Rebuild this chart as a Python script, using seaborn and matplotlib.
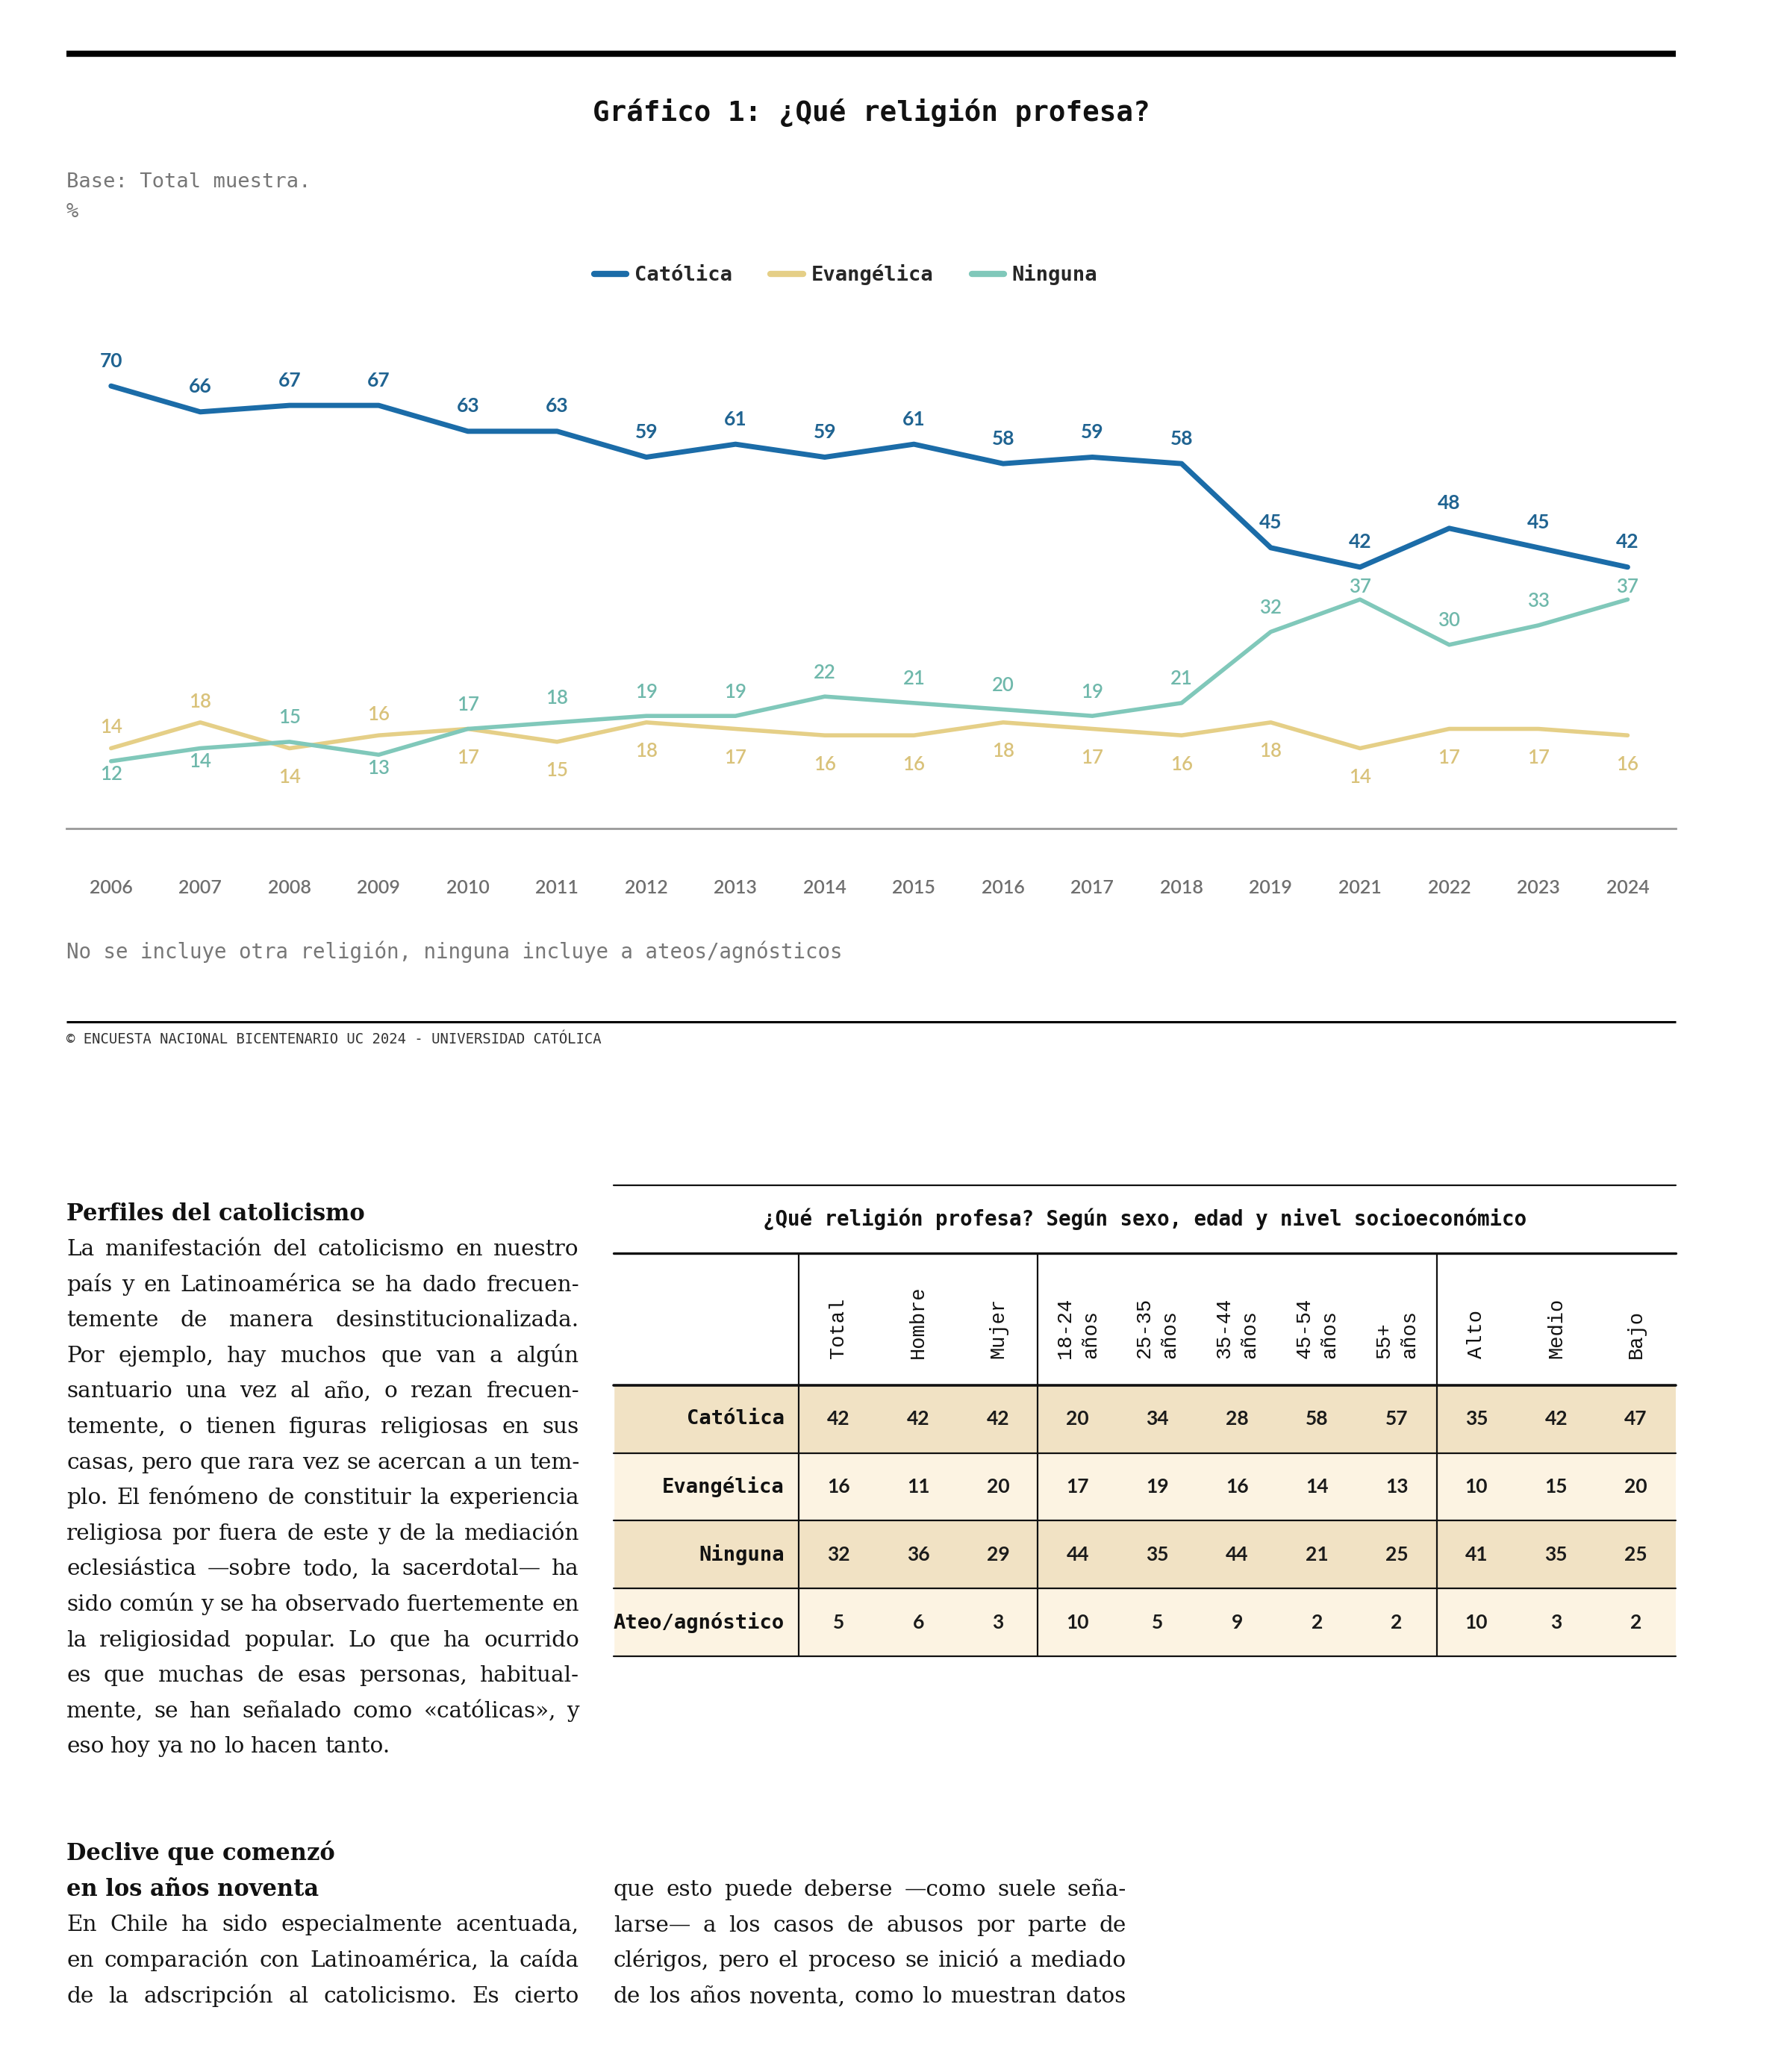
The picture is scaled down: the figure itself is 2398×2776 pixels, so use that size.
import numpy as np
import pandas as pd
import matplotlib
matplotlib.use('Agg')
import matplotlib.pyplot as plt
import seaborn as sns
from matplotlib.colors import ListedColormap
from matplotlib.lines import Line2D

# --- datos del grafico 1 ---
anios = ['2006', '2007', '2008', '2009', '2010', '2011', '2012', '2013', '2014',
         '2015', '2016', '2017', '2018', '2019', '2021', '2022', '2023', '2024']
catolica = [70, 66, 67, 67, 63, 63, 59, 61, 59, 61, 58, 59, 58, 45, 42, 48, 45, 42]
evangelica = [14, 18, 14, 16, 17, 15, 18, 17, 16, 16, 18, 17, 16, 18, 14, 17, 17, 16]
ninguna = [12, 14, 15, 13, 17, 18, 19, 19, 22, 21, 20, 19, 21, 32, 37, 30, 33, 37]

# --- datos de la tabla ---
filas = ['Católica', 'Evangélica', 'Ninguna', 'Ateo/agnóstico']
columnas = ['Total', 'Hombre', 'Mujer', '18-24\naños', '25-35\naños', '35-44\naños',
            '45-54\naños', '55+\naños', 'Alto', 'Medio', 'Bajo']
tab_catolica = [42, 42, 42, 20, 34, 28, 58, 57, 35, 42, 47]
tab_evangelica = [16, 11, 20, 17, 19, 16, 14, 13, 10, 15, 20]
tab_ninguna = [32, 36, 29, 44, 35, 44, 21, 25, 41, 35, 25]
tab_ateo = [5, 6, 3, 10, 5, 9, 2, 2, 10, 3, 2]

# --- textos ---
titulo = 'Gráfico 1: ¿Qué religión profesa?'
base_txt = 'Base: Total muestra.'
nota = 'No se incluye otra religión, ninguna incluye a ateos/agnósticos'
copy_txt = '© ENCUESTA NACIONAL BICENTENARIO UC 2024 - UNIVERSIDAD CATÓLICA'
titulo_tabla = '¿Qué religión profesa? Según sexo, edad y nivel socioeconómico'

texto1 = ['La manifestación del catolicismo en nuestro',
          'país y en Latinoamérica se ha dado frecuen-',
          'temente de manera desinstitucionalizada.',
          'Por ejemplo, hay muchos que van a algún',
          'santuario una vez al año, o rezan frecuen-',
          'temente, o tienen figuras religiosas en sus',
          'casas, pero que rara vez se acercan a un tem-',
          'plo. El fenómeno de constituir la experiencia',
          'religiosa por fuera de este y de la mediación',
          'eclesiástica —sobre todo, la sacerdotal— ha',
          'sido común y se ha observado fuertemente en',
          'la religiosidad popular. Lo que ha ocurrido',
          'es que muchas de esas personas, habitual-',
          'mente, se han señalado como «católicas», y',
          'eso hoy ya no lo hacen tanto.']
texto2 = ['En Chile ha sido especialmente acentuada,',
          'en comparación con Latinoamérica, la caída',
          'de la adscripción al catolicismo. Es cierto']
texto3 = ['que esto puede deberse —como suele seña-',
          'larse— a los casos de abusos por parte de',
          'clérigos, pero el proceso se inició a mediado',
          'de los años noventa, como lo muestran datos']

C_CAT = '#1b6ca8'
C_EVA = '#e5cf87'
C_NIN = '#80c8ba'
L_CAT = '#1f6391'
L_EVA = '#d9c27a'
L_NIN = '#6fb8ab'
BAND_D = '#f1e2c4'
BAND_L = '#fcf3e2'

MONO = 'DejaVu Sans Mono'
MONO2 = 'Liberation Mono'
SERIF = 'DejaVu Serif'
NUM = 'Lato'

W, H, DPI = 2398, 2776, 100
sns.set_theme(style='white')
plt.rcParams['font.family'] = ['DejaVu Sans']

fig = plt.figure(figsize=(W / DPI, H / DPI), dpi=DPI)
fig.patch.set_facecolor('white')


def fx(px):
    return px / W


def fy(py):
    return 1 - py / H


def add_ax(x0, y0, x1, y1):
    return fig.add_axes([fx(x0), fy(y1), fx(x1 - x0), (y1 - y0) / H])


def hline(y, x0, x1, lw, color='black'):
    fig.add_artist(Line2D([fx(x0), fx(x1)], [fy(y), fy(y)], transform=fig.transFigure,
                          color=color, lw=lw, solid_capstyle='butt'))


# cabecera
hline(72, 89, 2245, 6)
fig.text(fx(1167), fy(151), titulo, ha='center', va='center', family=MONO,
         weight='bold', fontsize=27, color='#111')
fig.text(fx(89), fy(244), base_txt, ha='left', va='center', family=MONO,
         fontsize=19.5, color='#777')
fig.text(fx(89), fy(284), '%', ha='left', va='center', family=MONO,
         fontsize=19.5, color='#777')

# grafico de lineas
ax = add_ax(89, 440, 2245, 1110)
n = len(anios)
df = pd.DataFrame({
    'pos': list(range(n)) * 3,
    'valor': catolica + evangelica + ninguna,
    'serie': ['Católica'] * n + ['Evangélica'] * n + ['Ninguna'] * n,
})
estilos = {'Católica': (C_CAT, 5.0), 'Evangélica': (C_EVA, 4.0), 'Ninguna': (C_NIN, 4.0)}
for serie, (col, lw) in estilos.items():
    sns.lineplot(data=df[df.serie == serie], x='pos', y='valor', color=col, lw=lw,
                 ax=ax, legend=False)

ax.set_xlim(-0.5, 17.54)
ax.set_ylim(1.6, 78.9)
ax.set_xlabel('')
ax.set_ylabel('')
ax.set_yticks([])
ax.set_xticks(range(n))
ax.set_xticklabels(anios, family=NUM, fontsize=18, color='#6f6f6f', weight='semibold')
ax.tick_params(axis='x', length=0, pad=49)
for s in ['top', 'left', 'right']:
    ax.spines[s].set_visible(False)
ax.spines['bottom'].set_color('#999999')
ax.spines['bottom'].set_linewidth(2)
ax.set_facecolor('none')

for i in range(n):
    c, e, m = catolica[i], evangelica[i], ninguna[i]
    ax.annotate(str(c), (i, c), xytext=(0, 24), textcoords='offset points', ha='center',
                va='center', family=NUM, fontsize=19, weight='bold', color=L_CAT)
    if e > m:
        off_e, off_m = 20, -13
    else:
        off_e = -28
        off_m = 12 if c - m < 8 else 23
    ax.annotate(str(e), (i, e), xytext=(0, off_e), textcoords='offset points', ha='center',
                va='center', family=NUM, fontsize=18.5, weight='semibold', color=L_EVA)
    ax.annotate(str(m), (i, m), xytext=(0, off_m), textcoords='offset points', ha='center',
                va='center', family=NUM, fontsize=18.5, weight='semibold', color=L_NIN)

handles = [Line2D([], [], color=col, lw=6, solid_capstyle='round') for col, _ in estilos.values()]
fig.legend(handles, list(estilos.keys()), loc='center', bbox_to_anchor=(fx(1133), fy(368)),
           ncol=3, frameon=False, handlelength=1.6, handletextpad=0.4, columnspacing=1.9,
           prop={'family': MONO, 'weight': 'bold', 'size': 19.5})

fig.text(fx(89), fy(1275), nota, ha='left', va='center', family=MONO, fontsize=19.8,
         color='#777')
hline(1369, 89, 2245, 2.2)
fig.text(fx(89), fy(1393), copy_txt, ha='left', va='center', family=MONO, fontsize=13.6,
         color='#333')

# tabla
tax = add_ax(822, 1588, 2245, 2219)
valores = np.array([tab_catolica, tab_evangelica, tab_ninguna, tab_ateo])
banda = np.array([[i % 2] * len(columnas) for i in range(len(filas))])
sns.heatmap(banda, annot=valores, fmt='d', cmap=ListedColormap([BAND_D, BAND_L]),
            cbar=False, xticklabels=False, yticklabels=False, ax=tax,
            annot_kws={'family': NUM, 'size': 19, 'weight': 'bold', 'color': '#1a1a1a'})
XL = -2.32
tax.barh(np.arange(len(filas)) + 0.5, -XL, left=XL, height=1,
         color=[BAND_D if i % 2 == 0 else BAND_L for i in range(len(filas))])
tax.set_xlim(XL, len(columnas))
tax.set_ylim(len(filas), -2.95)
tax.axis('off')

for y, lw in [(-2.95, 1.6), (-1.95, 2.4), (0, 2.6), (1, 1.6), (2, 1.6), (3, 1.6), (4, 1.6)]:
    tax.axhline(y, color='#111', lw=lw, clip_on=False)
tax.vlines([0, 3, 8], -1.95, 4, color='#111', lw=1.6)

tax.text((XL + len(columnas)) / 2, -2.45, titulo_tabla, ha='center', va='center',
         family=MONO, weight='bold', fontsize=19.8, color='#111')
for i, f in enumerate(filas):
    tax.text(-0.18, i + 0.5, f, ha='right', va='center', family=MONO, weight='bold',
             fontsize=19.5, color='#111')
for j, ctxt in enumerate(columnas):
    tax.text(j + 0.5, -0.4, ctxt, rotation=90, ha='center', va='bottom',
             multialignment='left', linespacing=1.4, family=MONO2, fontsize=19.5,
             color='#111')

# texto del articulo, justificado
rend = fig.canvas.get_renderer()


def ancho_natural(linea, size):
    t = fig.text(0, 0, linea, fontsize=size, family=SERIF)
    w = t.get_window_extent(rend).width
    t.remove()
    return w


def tam_ajustado(lineas, ancho, s0=20):
    mayor = max(ancho_natural(l, s0) for l in lineas)
    return s0 * ancho / mayor


def bloque(lineas, x0, x1, base0, paso, size, ultima_libre=False):
    for k, linea in enumerate(lineas):
        yb = base0 + k * paso
        objs = [fig.text(0, fy(yb), p, fontsize=size, family=SERIF, va='baseline',
                         ha='left', color='#151515') for p in linea.split()]
        anchos = [o.get_window_extent(rend).width for o in objs]
        if len(objs) > 1 and not (ultima_libre and k == len(lineas) - 1):
            hueco = (x1 - x0 - sum(anchos)) / (len(objs) - 1)
        else:
            hueco = size * DPI / 72 * 0.3
        x = x0
        for o, a in zip(objs, anchos):
            o.set_x(fx(x))
            x += a + hueco


s_cuerpo = tam_ajustado(texto1 + texto2 + texto3, 687)
s_tit = 22

fig.text(fx(89), fy(1635), 'Perfiles del catolicismo', family=SERIF, weight='bold',
         fontsize=s_tit, va='baseline', color='#111')
bloque(texto1, 89, 776, 1682, 47.6, s_cuerpo, ultima_libre=True)

fig.text(fx(89), fy(2492), 'Declive que comenzó', family=SERIF, weight='bold',
         fontsize=s_tit, va='baseline', color='#111')
fig.text(fx(89), fy(2540), 'en los años noventa', family=SERIF, weight='bold',
         fontsize=s_tit, va='baseline', color='#111')
bloque(texto2, 89, 776, 2587, 48, s_cuerpo)
bloque(texto3, 822, 1509, 2540, 47.7, s_cuerpo)

fig.savefig('out.png', dpi=DPI, facecolor='white')
